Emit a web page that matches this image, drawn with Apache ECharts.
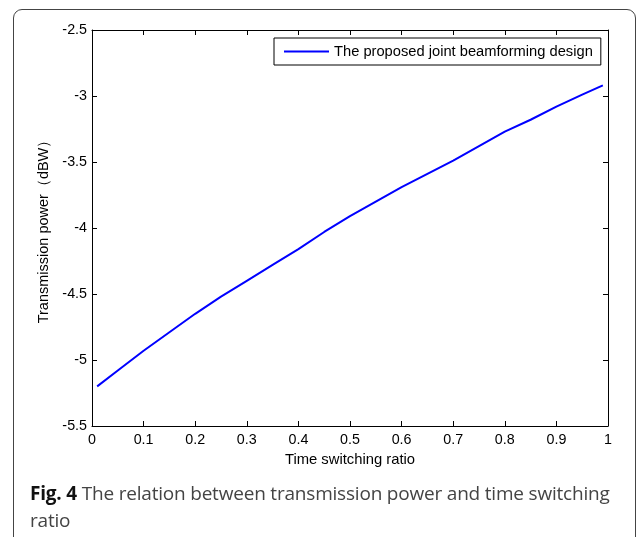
<!DOCTYPE html>
<html>
<head>
<meta charset="utf-8">
<script src="https://cdn.jsdelivr.net/npm/echarts@6/dist/echarts.min.js"></script>
<style>
  html, body { margin: 0; padding: 0; background: #fff; }
  .page { position: relative; width: 637px; height: 537px; overflow: hidden; }
  .frame {
    position: absolute; left: 13px; top: 9px; width: 621px; height: 560px;
    border: 1px solid #444; border-radius: 9px;
  }
  #chart { position: absolute; left: 0; top: 0; width: 637px; height: 537px; }
  .caption {
    position: absolute; left: 30px; top: 480px; width: 590px;
    font-family: "Open Sans", "Noto Sans", sans-serif; font-size: 19px;
    line-height: 27px; color: #444; letter-spacing: -0.2px;
  }
  .caption b { color: #111; }
</style>
</head>
<body>
<div class="page">
  <div class="frame"></div>
  <div id="chart"></div>
  <div class="caption"><b>Fig. 4</b> The relation between transmission power and time switching ratio</div>
</div>
<script>
// time switching ratio
const ratios = [0.01, 0.05, 0.1, 0.15, 0.2, 0.25, 0.3, 0.35, 0.4, 0.45, 0.5,
  0.55, 0.6, 0.65, 0.7, 0.75, 0.8, 0.85, 0.9, 0.95, 0.99]
// transmission power (dBW)
const power = [-5.20, -5.08, -4.93, -4.79, -4.65, -4.52, -4.40, -4.28, -4.16, -4.03, -3.91,
  -3.80, -3.69, -3.59, -3.49, -3.38, -3.27, -3.18, -3.08, -2.99, -2.92]
const seriesName = 'The proposed joint beamforming design'

const chart = echarts.init(document.getElementById('chart'))

const font = 'Liberation Sans, Arial, sans-serif'

// onZero off, otherwise the right y axis jumps onto x = 0
function axisLine() {
  return { show: true, onZero: false, lineStyle: { color: '#000', width: 1 } }
}
function tickIn() {
  return { show: true, inside: true, length: 5, lineStyle: { color: '#000', width: 1 } }
}

chart.setOption({
  animation: false,
  grid: { left: 92, top: 30, right: 29, bottom: 111 },
  legend: {
    data: [{ name: seriesName, icon: 'rect' }],
    left: 274,
    top: 38,
    padding: [5, 8, 5, 10],
    itemWidth: 45,
    itemHeight: 2,
    itemGap: 0,
    borderColor: '#000',
    borderWidth: 1,
    backgroundColor: '#fff',
    textStyle: { fontFamily: font, fontSize: 14.7, color: '#000', lineHeight: 17 }
  },
  xAxis: [
    {
      type: 'value', min: 0, max: 1, interval: 0.1,
      name: 'Time switching ratio', nameLocation: 'middle', nameGap: 26,
      nameTextStyle: { fontFamily: font, fontSize: 14.8, color: '#000' },
      axisLine: axisLine(), axisTick: tickIn(), splitLine: { show: false },
      axisLabel: { fontFamily: font, fontSize: 14.3, color: '#000', margin: 7 }
    },
    {
      type: 'value', position: 'top', min: 0, max: 1, interval: 0.1,
      axisLine: axisLine(), axisTick: tickIn(), splitLine: { show: false },
      axisLabel: { show: false }
    }
  ],
  yAxis: [
    {
      type: 'value', min: -5.5, max: -2.5, interval: 0.5,
      name: 'Transmission power（dBW）', nameLocation: 'middle', nameGap: 40,
      nameTextStyle: { fontFamily: font, fontSize: 14.5, color: '#000' },
      axisLine: axisLine(), axisTick: tickIn(), splitLine: { show: false },
      axisLabel: { fontFamily: font, fontSize: 14.3, color: '#000', margin: 5 }
    },
    {
      type: 'value', position: 'right', min: -5.5, max: -2.5, interval: 0.5,
      axisLine: axisLine(), axisTick: tickIn(), splitLine: { show: false },
      axisLabel: { show: false }
    }
  ],
  series: [{
    name: seriesName,
    type: 'line',
    data: ratios.map((r, i) => [r, power[i]]),
    symbol: 'none',
    lineStyle: { color: '#0000ff', width: 2 },
    itemStyle: { color: '#0000ff' }
  }]
})
</script>
</body>
</html>
